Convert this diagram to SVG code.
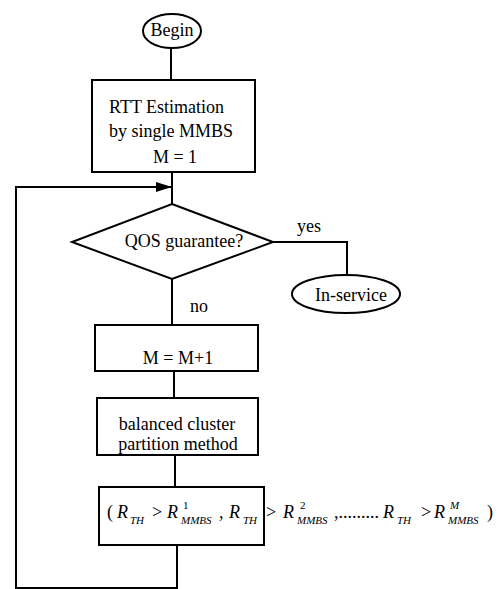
<svg xmlns="http://www.w3.org/2000/svg" width="502" height="589" viewBox="0 0 502 589">
<defs>
<style>
.s{fill:none;stroke:#000;stroke-width:2}
.n{fill:#fff;stroke:#000;stroke-width:2}
text{font-family:"Liberation Serif","Times New Roman",serif;font-size:18px;fill:#000}
.c{text-anchor:middle}
.i{font-style:italic}
.sub{font-style:italic;font-size:11px}
.sup{font-size:11px}
</style>
<marker id="ah" markerWidth="16" markerHeight="10" refX="16" refY="5" orient="auto" markerUnits="userSpaceOnUse">
<path d="M0,0 L16,5 L0,10 Z" fill="#000"/>
</marker>
</defs>
<rect width="502" height="589" fill="#fff"/>
<g id="connectors">
<line class="s" x1="171" y1="48" x2="171" y2="80"/>
<line class="s" x1="172" y1="172" x2="172" y2="204"/>
<line class="s" x1="172" y1="279" x2="172" y2="325"/>
<line class="s" x1="174" y1="371" x2="174" y2="398"/>
<line class="s" x1="175" y1="455" x2="175" y2="487"/>
<polyline class="s" points="177,545 177,588 16,588 16,187 172,187" marker-end="url(#ah)"/>
<polyline class="s" points="273,242 347,242 347,275"/>
<text x="297" y="232">yes</text>
<text x="190" y="312">no</text>
</g>
<g id="begin">
<ellipse class="n" cx="172" cy="31" rx="29" ry="17"/>
<text class="c" x="172" y="36">Begin</text>
</g>
<g id="rtt">
<rect class="n" x="92" y="80" width="163" height="92"/>
<text x="109" y="113">RTT Estimation</text>
<text x="109" y="137">by single MMBS</text>
<text class="c" x="175" y="163">M = 1</text>
</g>
<g id="qos">
<polygon class="n" points="172,204 273,242 172,279 72,242"/>
<text class="c" x="184" y="247">QOS guarantee?</text>
</g>
<g id="inservice">
<ellipse class="n" cx="346" cy="294" rx="54" ry="19"/>
<text class="c" x="351" y="301">In-service</text>
</g>
<g id="inc">
<rect class="n" x="95" y="325" width="163" height="46"/>
<text class="c" x="178" y="364">M = M+1</text>
</g>
<g id="partition">
<rect class="n" x="97" y="398" width="161" height="57"/>
<text class="c" x="177" y="430">balanced cluster</text>
<text class="c" x="178" y="450">partition method</text>
</g>
<g id="condition">
<rect class="n" x="99" y="487" width="165" height="58"/>
<text>
<tspan x="107" y="518">(</tspan>
<tspan class="i" x="117" y="518">R</tspan>
<tspan class="sub" x="130" y="524">TH</tspan>
<tspan x="152" y="518">&gt;</tspan>
<tspan class="i" x="167" y="518">R</tspan>
<tspan class="sup" x="183" y="509">1</tspan>
<tspan class="sub" x="181" y="524">MMBS</tspan>
<tspan x="219" y="518">,</tspan>
<tspan class="i" x="229" y="518">R</tspan>
<tspan class="sub" x="243" y="524">TH</tspan>
<tspan x="266" y="518">&gt;</tspan>
<tspan class="i" x="283" y="518">R</tspan>
<tspan class="sup" x="300" y="509">2</tspan>
<tspan class="sub" x="297" y="524">MMBS</tspan>
<tspan x="334" y="518">,.........</tspan>
<tspan class="i" x="383" y="518">R</tspan>
<tspan class="sub" x="397" y="524">TH</tspan>
<tspan x="421" y="518">&gt;</tspan>
<tspan class="i" x="434" y="518">R</tspan>
<tspan class="sup i" x="450" y="509">M</tspan>
<tspan class="sub" x="448" y="524">MMBS</tspan>
<tspan x="487" y="518">)</tspan>
</text>
</g>
</svg>
